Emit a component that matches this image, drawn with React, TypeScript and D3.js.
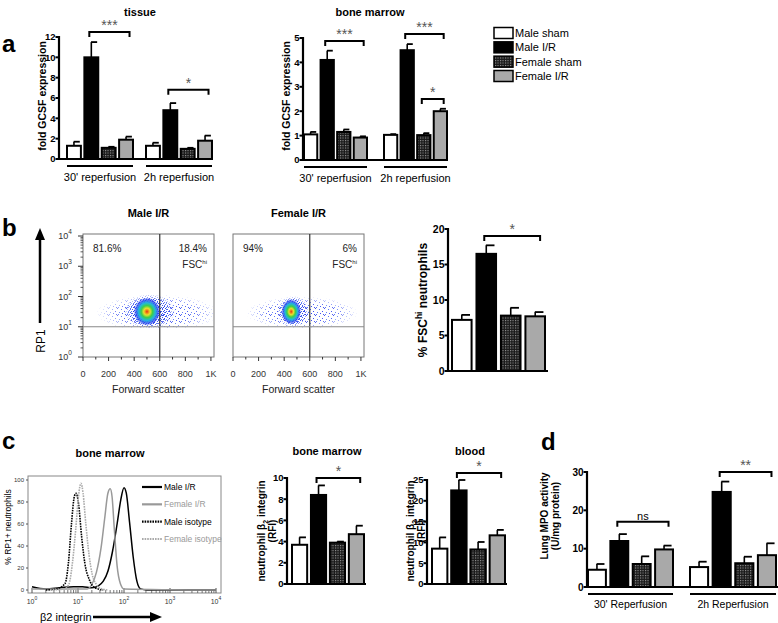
import React from "react";
import * as d3 from "d3";

// ---------------- data ----------------
const groupNames = ["Male sham", "Male I/R", "Female sham", "Female I/R"];
const timeLabels = ["30' reperfusion", "2h reperfusion"];
const timeLabelsD = ["30' Reperfusion", "2h Reperfusion"];

const tissueMean30 = [1.3, 10.0, 1.1, 1.9];
const tissueErr30 = [1.7, 11.5, 1.2, 2.2];
const tissueMean2h = [1.3, 4.8, 1.0, 1.8];
const tissueErr2h = [1.6, 5.5, 1.1, 2.3];
const tissueTicks = [0, 2, 4, 6, 8, 10, 12];

const bmMean30 = [1.05, 4.1, 1.15, 0.92];
const bmErr30 = [1.15, 4.48, 1.25, 0.97];
const bmMean2h = [1.03, 4.5, 1.02, 2.0];
const bmErr2h = [1.06, 4.75, 1.1, 2.1];
const bmTicks = [0, 1, 2, 3, 4, 5];

const fscMean = [7.2, 16.5, 7.8, 7.7];
const fscErr = [7.9, 17.7, 8.9, 8.3];
const fscTicks = [0, 5, 10, 15, 20];

const b2BmMean = [3.7, 8.4, 3.9, 4.7];
const b2BmErr = [4.4, 9.3, 4.0, 5.5];
const b2BmTicks = [0, 2, 4, 6, 8, 10];

const b2BloodMean = [8.5, 22.5, 8.3, 11.7];
const b2BloodErr = [11.2, 25.0, 10.1, 13.0];
const b2BloodTicks = [0, 5, 10, 15, 20, 25];

const mpoMean30 = [4.5, 12.0, 6.0, 9.8];
const mpoErr30 = [6.0, 13.8, 8.0, 10.8];
const mpoMean2h = [5.2, 24.8, 6.2, 8.3];
const mpoErr2h = [6.6, 27.5, 7.9, 11.4];
const mpoTicks = [0, 10, 20, 30];

// flow cytometry dot plots
const fscAxisTicks = [0, 200, 400, 600, 800, 1000];
const fscAxisLabels = ["0", "200", "400", "600", "800", "1K"];
const rp1Decades = [0, 1, 2, 3, 4];
const maleIRPct = ["81.6%", "18.4%"];
const femaleIRPct = ["94%", "6%"];
// [fsc centre, log10 RP1 centre, fsc radius, log radius]
const maleSparse = [580, 1.45, 480, 0.62];
const maleDense = [520, 1.5, 200, 0.58];
const maleCore = [500, 1.5, 105, 0.47];
const femaleSparse = [540, 1.45, 440, 0.55];
const femaleDense = [470, 1.5, 125, 0.52];
const femaleCore = [455, 1.5, 78, 0.42];

// histogram curves [log10 beta2 integrin, % of max]
const histMaleIR = [[0, 3], [0.3, 1], [0.6, 2], [0.9, 3], [1.1, 3], [1.3, 2], [1.45, 4], [1.55, 8], [1.65, 17], [1.75, 35], [1.85, 60], [1.93, 82], [2.0, 93], [2.05, 88], [2.12, 62], [2.2, 30], [2.28, 8], [2.36, 1], [2.5, 0], [4, 0]];
const histFemaleIR = [[0, 1], [0.6, 1], [1.0, 1], [1.2, 1], [1.3, 5], [1.4, 16], [1.5, 38], [1.58, 65], [1.65, 88], [1.7, 92], [1.74, 85], [1.79, 55], [1.85, 22], [1.92, 6], [2.0, 1], [4, 0]];
const histMaleIso = [[0.3, 0], [0.54, 1], [0.72, 6], [0.79, 24], [0.86, 61], [0.92, 85], [0.96, 88], [1.01, 79], [1.08, 48], [1.15, 24], [1.25, 9], [1.37, 2], [1.55, 0]];
const histFemaleIso = [[0.4, 0], [0.7, 1], [0.8, 5], [0.88, 25], [0.95, 55], [1.01, 85], [1.065, 97], [1.11, 88], [1.17, 60], [1.24, 32], [1.31, 14], [1.4, 5], [1.52, 1], [1.65, 0]];
const histYTicks = [0, 20, 40, 60, 80, 100];
const histDecades = [0, 1, 2, 3, 4];
const histLegend = ["Male I/R", "Female I/R", "Male isotype", "Female isotype"];

// ---------------- helpers ----------------
const FONT = "'Liberation Sans', Arial, Helvetica, sans-serif";
const barFill = (i: number) => ["#ffffff", "#000000", "url(#chk)", "#a9a9a9"][i];

type Group = { range: [number, number]; values: number[]; errs: number[]; label?: string };
type Bracket = { g: number; a: number; b: number; y: number; text: string };

function BarPanel(p: {
  axisX: number; y0: number; yTop: number; max: number; ticks: number[];
  groups: Group[]; xEnd: number; brackets: Bracket[]; tickSize?: number;
  labelSize?: number; labelDy?: number;
}) {
  const y = d3.scaleLinear().domain([0, p.max]).range([p.y0, p.yTop]);
  const scales = p.groups.map((g) =>
    d3.scaleBand<number>().domain(d3.range(g.values.length)).range(g.range).paddingInner(0.2)
  );
  const ts = p.tickSize ?? 9.5;
  return (
    <g fontFamily={FONT}>
      {p.groups.map((g, gi) => {
        const x = scales[gi];
        const bw = x.bandwidth();
        return (
          <g key={gi}>
            {g.values.map((v, i) => {
              const cx = (x(i) as number) + bw / 2;
              return (
                <g key={i}>
                  <line x1={cx} x2={cx} y1={y(v)} y2={y(g.errs[i])} stroke="#000" strokeWidth={1.6} />
                  <line x1={cx - bw * 0.02} x2={cx + bw * 0.42} y1={y(g.errs[i])} y2={y(g.errs[i])} stroke="#000" strokeWidth={1.8} />
                  <rect x={x(i) as number} y={y(v)} width={bw} height={p.y0 - y(v)} fill={barFill(i)} stroke="#000" strokeWidth={2} />
                </g>
              );
            })}
            {g.label && (
              <g>
                <line x1={g.range[0]} x2={g.range[1]} y1={p.y0 + 7} y2={p.y0 + 7} stroke="#000" strokeWidth={2} />
                <text x={(g.range[0] + g.range[1]) / 2} y={p.y0 + (p.labelDy ?? 22)} textAnchor="middle" fontSize={p.labelSize ?? 11}>
                  {g.label}
                </text>
              </g>
            )}
          </g>
        );
      })}
      <line x1={p.axisX} x2={p.axisX} y1={p.y0} y2={y(p.max) - 1} stroke="#000" strokeWidth={2.2} />
      <line x1={p.axisX - 1} x2={p.xEnd} y1={p.y0} y2={p.y0} stroke="#000" strokeWidth={2.2} />
      {p.ticks.map((t) => (
        <g key={t}>
          <line x1={p.axisX - 3.5} x2={p.axisX} y1={y(t)} y2={y(t)} stroke="#000" strokeWidth={2} />
          <text x={p.axisX - 3.5} y={y(t) + ts * 0.36} textAnchor="end" fontSize={ts} fontWeight="bold">{t}</text>
        </g>
      ))}
      {p.brackets.map((b, bi) => {
        const x = scales[b.g];
        const bw = x.bandwidth();
        const x1 = (x(b.a) as number) + bw / 2 - 2;
        const x2 = (x(b.b) as number) + bw * 0.75;
        const yy = y(b.y);
        return (
          <g key={bi}>
            <path d={`M${x1},${yy + 5}V${yy}H${x2}V${yy + 5}`} fill="none" stroke="#000" strokeWidth={2} />
            <text x={(x1 + x2) / 2} y={yy - 2} textAnchor="middle" fontSize={b.text === "ns" ? 11 : 14} fill={b.text === "ns" ? "#000" : "#555"}>
              {b.text}
            </text>
          </g>
        );
      })}
    </g>
  );
}

function RotLabel({ x, y, size, children, weight }: { x: number; y: number; size: number; children: any; weight?: string }) {
  return (
    <text transform={`translate(${x},${y}) rotate(-90)`} textAnchor="middle" fontSize={size} fontWeight={weight ?? "bold"} fontFamily={FONT}>
      {children}
    </text>
  );
}

function FlowPlot(p: {
  id: string; x0: number; x1: number; title: string; pct: string[];
  sparse: number[]; dense: number[]; core: number[]; showY: boolean;
}) {
  const x = d3.scaleLinear().domain([0, 1024]).range([p.x0, p.x1]);
  const y = d3.scaleLog().domain([1, 10000]).range([357, 236]);
  const top = 234;
  const bot = 357;
  const minor = d3.range(100, 1000, 100).filter((v) => v % 200 !== 0);
  const logMinor: number[] = [];
  rp1Decades.slice(0, -1).forEach((d) => [2, 3, 4, 5, 6, 7, 8, 9].forEach((m) => logMinor.push(m * Math.pow(10, d))));
  const ell = (e: number[]) => {
    const cx = x(e[0]);
    const cy = y(Math.pow(10, e[1]));
    const rx = x(e[0] + e[2]) - cx;
    const ry = cy - y(Math.pow(10, e[1] + e[3]));
    return { cx, cy, rx, ry };
  };
  const s = ell(p.sparse);
  const d = ell(p.dense);
  const c = ell(p.core);
  const gateY = y(10);
  const topY = y(Math.pow(10, 2.05));
  return (
    <g fontFamily={FONT}>
      <defs>
        <clipPath id={`clip-${p.id}`}>
          <rect x={p.x0} y={topY} width={p.x1 - p.x0} height={gateY - topY + 1} />
        </clipPath>
        <mask id={`mask-${p.id}`}>
          <ellipse cx={s.cx} cy={s.cy} rx={s.rx} ry={s.ry} fill="url(#fade)" />
        </mask>
        <mask id={`maskd-${p.id}`}>
          <ellipse cx={d.cx} cy={d.cy} rx={d.rx} ry={d.ry} fill="url(#fade2)" />
        </mask>
      </defs>
      <text x={(p.x0 + p.x1) / 2} y={217} textAnchor="middle" fontSize={11} fontWeight="bold">{p.title}</text>
      <g clipPath={`url(#clip-${p.id})`}>
        <rect x={s.cx - s.rx} y={s.cy - s.ry} width={s.rx * 2} height={s.ry * 2} fill="url(#dots)" mask={`url(#mask-${p.id})`} />
        <rect x={d.cx - d.rx} y={d.cy - d.ry} width={d.rx * 2} height={d.ry * 2} fill="url(#dots2)" mask={`url(#maskd-${p.id})`} />
        <ellipse cx={c.cx} cy={c.cy} rx={c.rx} ry={c.ry} fill="url(#heat)" />
      </g>
      <rect x={p.x0} y={top} width={p.x1 - p.x0} height={bot - top} fill="none" stroke="#777" strokeWidth={1} />
      <line x1={x(600)} x2={x(600)} y1={top} y2={bot} stroke="#333" strokeWidth={1.2} />
      <line x1={p.x0} x2={p.x1} y1={gateY} y2={gateY} stroke="#888" strokeWidth={1.2} />
      {fscAxisTicks.map((t, i) => (
        <g key={t}>
          <line x1={x(t)} x2={x(t)} y1={bot} y2={bot + 4} stroke="#333" />
          <text x={x(t)} y={377} textAnchor="middle" fontSize={9} fill="#333">{fscAxisLabels[i]}</text>
        </g>
      ))}
      {minor.map((t) => (
        <line key={t} x1={x(t)} x2={x(t)} y1={bot} y2={bot + 2.5} stroke="#333" />
      ))}
      <text x={(p.x0 + p.x1) / 2} y={393} textAnchor="middle" fontSize={10.5} fill="#222">Forward scatter</text>
      <text x={p.x0 + 10} y={252} fontSize={10} fill="#222">{p.pct[0]}</text>
      <text x={p.x1 - 7} y={252} fontSize={10} textAnchor="end" fill="#222">{p.pct[1]}</text>
      <text x={p.x1 - 7} y={268} fontSize={10} textAnchor="end" fill="#222">
        FSC<tspan fontSize={6} dy={-4}>hi</tspan>
      </text>
      {p.showY && (
        <g>
          {rp1Decades.map((dd) => (
            <g key={dd}>
              <line x1={p.x0 - 5} x2={p.x0} y1={y(Math.pow(10, dd))} y2={y(Math.pow(10, dd))} stroke="#333" />
              <text x={p.x0 - 18} y={y(Math.pow(10, dd)) + 3} textAnchor="middle" fontSize={9} fill="#333">
                10<tspan fontSize={6.5} dy={-5}>{dd}</tspan>
              </text>
            </g>
          ))}
          {logMinor.map((v, i) => (
            <line key={i} x1={p.x0 - 2.5} x2={p.x0} y1={y(v)} y2={y(v)} stroke="#333" strokeWidth={0.8} />
          ))}
        </g>
      )}
    </g>
  );
}

function Histogram() {
  const x = d3.scaleLinear().domain([0, 4]).range([32, 216]);
  const y = d3.scaleLinear().domain([0, 100]).range([590, 480]);
  const line = d3.line<number[]>().x((d) => x(d[0])).y((d) => y(d[1])).curve(d3.curveMonotoneX);
  const minor: number[] = [];
  histDecades.slice(0, -1).forEach((d) => [2, 3, 4, 5, 6, 7, 8, 9].forEach((m) => minor.push(d + Math.log10(m))));
  const styles = [
    { data: histMaleIR, stroke: "#000", dash: "", w: 1.5 },
    { data: histFemaleIR, stroke: "#999", dash: "", w: 1.5 },
    { data: histMaleIso, stroke: "#000", dash: "1.6,1", w: 1.6 },
    { data: histFemaleIso, stroke: "#aaa", dash: "1.6,1", w: 1.6 },
  ];
  const legendY = d3.scalePoint<number>().domain([0, 1, 2, 3]).range([487, 539]);
  return (
    <g fontFamily={FONT}>
      <text x={110} y={457} textAnchor="middle" fontSize={11} fontWeight="bold">bone marrow</text>
      <rect x={28} y={476} width={193} height={117} fill="none" stroke="#888" strokeWidth={1} />
      {histYTicks.map((t) => (
        <g key={t}>
          <line x1={26} x2={28} y1={y(t)} y2={y(t)} stroke="#555" />
          <text x={24} y={y(t) + 2} textAnchor="end" fontSize={6} fill="#333">{t}</text>
        </g>
      ))}
      {histDecades.map((d) => (
        <g key={d}>
          <line x1={x(d)} x2={x(d)} y1={593} y2={588} stroke="#555" />
          <text x={x(d)} y={604} textAnchor="middle" fontSize={7} fill="#333">
            10<tspan fontSize={5} dy={-4}>{d}</tspan>
          </text>
        </g>
      ))}
      {minor.map((v, i) => (
        <line key={i} x1={x(v)} x2={x(v)} y1={593} y2={590} stroke="#555" strokeWidth={0.8} />
      ))}
      {styles.map((s, i) => (
        <path key={i} d={line(s.data) as string} fill="none" stroke={s.stroke} strokeWidth={s.w} strokeDasharray={s.dash || undefined} />
      ))}
      {histLegend.map((n, i) => (
        <g key={n}>
          <line x1={142} x2={162} y1={legendY(i) as number} y2={legendY(i) as number} stroke={styles[i].stroke}
            strokeWidth={2.2} strokeDasharray={i >= 2 ? "1.6,1" : undefined} />
          <text x={164} y={(legendY(i) as number) + 3} fontSize={8.5} fill={i % 2 === 0 ? "#000" : "#999"}>{n}</text>
        </g>
      ))}
      <RotLabel x={11} y={527} size={8.5} weight="normal">% RP1+ neutrophils</RotLabel>
      <text x={40} y={621} fontSize={11} fill="#000">β2 integrin</text>
      <line x1={93} x2={152} y1={617} y2={617} stroke="#000" strokeWidth={2.5} />
      <path d="M150,612 L162,617 L150,622 Z" fill="#000" />
    </g>
  );
}

export default function App() {
  const legendY = d3.scalePoint<number>().domain([0, 1, 2, 3]).range([33, 76]);
  return (
    <svg width={778} height={623} viewBox="0 0 778 623" style={{ position: "absolute", left: 0, top: 0, background: "#fff" }}
      fontFamily={FONT}>
      <defs>
        <pattern id="chk" width={2.5} height={2.5} patternUnits="userSpaceOnUse">
          <rect width={2.5} height={2.5} fill="#1a1a1a" />
          <rect width={1.1} height={1.1} fill="#9a9a9a" />
        </pattern>
        <pattern id="dots" width={9} height={7} patternUnits="userSpaceOnUse">
          <rect x={0} y={0} width={1} height={1} fill="#2a3cf0" />
          <rect x={4} y={1} width={1} height={1} fill="#3a5cf5" />
          <rect x={7} y={3} width={1} height={1} fill="#2a3cf0" />
          <rect x={2} y={4} width={1} height={1} fill="#4a6cf8" />
          <rect x={5} y={5} width={1} height={1} fill="#2a3cf0" />
          <rect x={1} y={6} width={1} height={1} fill="#3a5cf5" />
          <rect x={8} y={6} width={1} height={1} fill="#2a3cf0" />
        </pattern>
        <pattern id="dots2" width={5} height={4} patternUnits="userSpaceOnUse">
          <rect x={0} y={0} width={1} height={1} fill="#1e32e8" />
          <rect x={2} y={1} width={1} height={1} fill="#2a48f0" />
          <rect x={4} y={2} width={1} height={1} fill="#1e32e8" />
          <rect x={1} y={3} width={1} height={1} fill="#2a60f4" />
          <rect x={3} y={3} width={1} height={1} fill="#1e32e8" />
        </pattern>
        <radialGradient id="fade">
          <stop offset="0%" stopColor="#fff" stopOpacity={1} />
          <stop offset="60%" stopColor="#fff" stopOpacity={0.8} />
          <stop offset="100%" stopColor="#fff" stopOpacity={0} />
        </radialGradient>
        <radialGradient id="fade2">
          <stop offset="0%" stopColor="#fff" stopOpacity={1} />
          <stop offset="70%" stopColor="#fff" stopOpacity={0.9} />
          <stop offset="100%" stopColor="#fff" stopOpacity={0} />
        </radialGradient>
        <radialGradient id="heat">
          <stop offset="0%" stopColor="#e0301a" />
          <stop offset="12%" stopColor="#f09018" />
          <stop offset="24%" stopColor="#e6e030" />
          <stop offset="42%" stopColor="#3ccf48" />
          <stop offset="62%" stopColor="#22b8dc" />
          <stop offset="82%" stopColor="#2b48ee" stopOpacity={0.8} />
          <stop offset="100%" stopColor="#2b48ee" stopOpacity={0} />
        </radialGradient>
      </defs>
      <rect width={778} height={623} fill="#fff" />

      {/* panel letters */}
      <text x={2} y={52} fontSize={24} fontWeight="bold">a</text>
      <text x={2} y={236} fontSize={24} fontWeight="bold">b</text>
      <text x={2} y={449} fontSize={24} fontWeight="bold">c</text>
      <text x={541} y={450} fontSize={24} fontWeight="bold">d</text>

      {/* ---- panel a: tissue ---- */}
      <text x={140} y={16} textAnchor="middle" fontSize={11} fontWeight="bold">tissue</text>
      <BarPanel axisX={59} y0={159} yTop={37} max={12} ticks={tissueTicks} xEnd={213}
        groups={[
          { range: [67, 133], values: tissueMean30, errs: tissueErr30, label: timeLabels[0] },
          { range: [146, 212], values: tissueMean2h, errs: tissueErr2h, label: timeLabels[1] },
        ]}
        brackets={[{ g: 0, a: 1, b: 3, y: 12.5, text: "***" }, { g: 1, a: 1, b: 3, y: 6.8, text: "*" }]}
      />
      <RotLabel x={46} y={96} size={10.5}>fold GCSF expression</RotLabel>

      {/* ---- panel a: bone marrow ---- */}
      <text x={370} y={16} textAnchor="middle" fontSize={11} fontWeight="bold">bone marrow</text>
      <BarPanel axisX={303} y0={160} yTop={38} max={5} ticks={bmTicks} xEnd={448}
        groups={[
          { range: [304, 367], values: bmMean30, errs: bmErr30, label: timeLabels[0] },
          { range: [384, 447], values: bmMean2h, errs: bmErr2h, label: timeLabels[1] },
        ]}
        brackets={[
          { g: 0, a: 1, b: 3, y: 4.88, text: "***" },
          { g: 1, a: 1, b: 3, y: 5.16, text: "***" },
          { g: 1, a: 2, b: 3, y: 2.5, text: "*" },
        ]}
      />
      <RotLabel x={290} y={96} size={10.5}>fold GCSF expression</RotLabel>

      {/* legend */}
      {groupNames.map((n, i) => (
        <g key={n}>
          <rect x={494} y={(legendY(i) as number) - 5.5} width={19} height={11} fill={barFill(i)} stroke="#000" strokeWidth={1.5} />
          <text x={515} y={(legendY(i) as number) + 4} fontSize={11}>{n}</text>
        </g>
      ))}

      {/* ---- panel b ---- */}
      <line x1={40} x2={40} y1={323} y2={238} stroke="#000" strokeWidth={2.5} />
      <path d="M35,240 L40,228 L45,240 Z" fill="#000" />
      <text transform="translate(45,341) rotate(-90)" textAnchor="middle" fontSize={12}>RP1</text>
      <FlowPlot id="m" x0={83} x1={214} title="Male I/R" pct={maleIRPct} sparse={maleSparse} dense={maleDense} core={maleCore} showY={true} />
      <FlowPlot id="f" x0={233} x1={364} title="Female I/R" pct={femaleIRPct} sparse={femaleSparse} dense={femaleDense} core={femaleCore} showY={false} />

      <BarPanel axisX={448} y0={371} yTop={229} max={20} ticks={fscTicks} xEnd={548} tickSize={10.5}
        groups={[{ range: [452, 545], values: fscMean, errs: fscErr }]}
        brackets={[{ g: 0, a: 1, b: 3, y: 19.0, text: "*" }]}
      />
      <RotLabel x={427} y={300} size={12}>
        % FSC<tspan fontSize={8.5} dy={-5}>hi</tspan><tspan dy={5}> neutrophils</tspan>
      </RotLabel>

      {/* ---- panel c ---- */}
      <Histogram />
      <text x={327} y={455} textAnchor="middle" fontSize={11} fontWeight="bold">bone marrow</text>
      <BarPanel axisX={287} y0={584} yTop={478} max={10} ticks={b2BmTicks} xEnd={366}
        groups={[{ range: [292, 364], values: b2BmMean, errs: b2BmErr }]}
        brackets={[{ g: 0, a: 1, b: 3, y: 10.0, text: "*" }]}
      />
      <RotLabel x={265} y={531} size={10}>
        neutrophil β<tspan fontSize={7} dy={3}>2</tspan><tspan dy={-3}> integrin</tspan>
      </RotLabel>
      <RotLabel x={276} y={531} size={10}>(RFI)</RotLabel>

      <text x={470} y={455} textAnchor="middle" fontSize={11} fontWeight="bold">blood</text>
      <BarPanel axisX={427} y0={584} yTop={480} max={25} ticks={b2BloodTicks} xEnd={507}
        groups={[{ range: [432, 505], values: b2BloodMean, errs: b2BloodErr }]}
        brackets={[{ g: 0, a: 1, b: 3, y: 26.7, text: "*" }]}
      />
      <RotLabel x={414} y={531} size={10}>
        neutrophil β<tspan fontSize={7} dy={3}>2</tspan><tspan dy={-3}> integrin</tspan>
      </RotLabel>
      <RotLabel x={425} y={531} size={10}>(RFI)</RotLabel>

      {/* ---- panel d ---- */}
      <BarPanel axisX={587} y0={587} yTop={472} max={30} ticks={mpoTicks} xEnd={778} tickSize={10}
        labelSize={10.5} labelDy={21}
        groups={[
          { range: [588, 673], values: mpoMean30, errs: mpoErr30, label: timeLabelsD[0] },
          { range: [690, 776], values: mpoMean2h, errs: mpoErr2h, label: timeLabelsD[1] },
        ]}
        brackets={[
          { g: 0, a: 1, b: 3, y: 17.0, text: "ns" },
          { g: 1, a: 1, b: 3, y: 30.0, text: "**" },
        ]}
      />
      <RotLabel x={548} y={516} size={10}>Lung MPO activity</RotLabel>
      <RotLabel x={559} y={516} size={10}>(U/mg protein)</RotLabel>
    </svg>
  );
}
